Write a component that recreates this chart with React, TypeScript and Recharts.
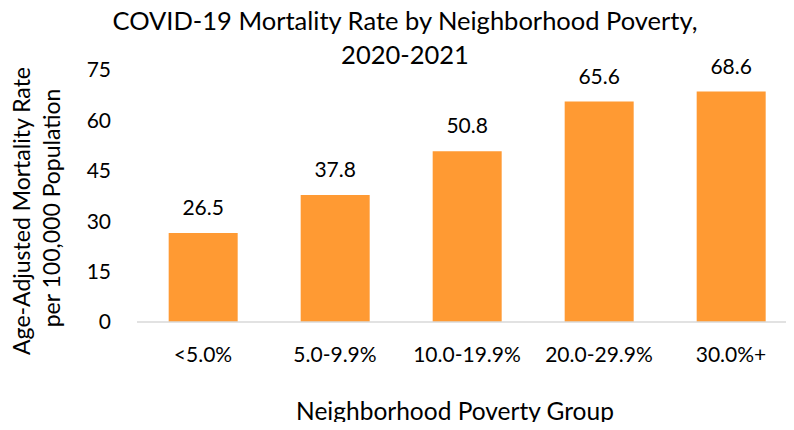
import React from "react";
import { BarChart, Bar, XAxis, YAxis, LabelList, Label } from "recharts";

const categories: string[] = ["<5.0%", "5.0-9.9%", "10.0-19.9%", "20.0-29.9%", "30.0%+"];
const rates: number[] = [26.5, 37.8, 50.8, 65.6, 68.6];
const yTicks: number[] = [0, 15, 30, 45, 60, 75];

const titleLines: string[] = ["COVID-19 Mortality Rate by Neighborhood Poverty,", "2020-2021"];
const yTitleLines: string[] = ["Age-Adjusted Mortality Rate", "per 100,000 Population"];
const xTitle = "Neighborhood Poverty Group";

const FONT = "Lato, 'Open Sans', sans-serif";
const BAR_COLOR = "#FF9A33";

const data = categories.map((name, i) => ({ name, rate: rates[i] }));

// titre vertical en deux lignes, comme dans Excel
const YTitle = () => (
  <g>
    <text
      x={21}
      y={211}
      transform="rotate(-90 21 211)"
      textAnchor="middle"
      dominantBaseline="central"
      fontSize={23}
      fontFamily={FONT}
      fill="#000"
    >
      {yTitleLines[0]}
    </text>
    <text
      x={51}
      y={208}
      transform="rotate(-90 51 208)"
      textAnchor="middle"
      dominantBaseline="central"
      fontSize={23}
      fontFamily={FONT}
      fill="#000"
    >
      {yTitleLines[1]}
    </text>
  </g>
);

const XTitle = () => (
  <text x={455} y={420} textAnchor="middle" fontSize={24.5} fontFamily={FONT} fill="#000">
    {xTitle}
  </text>
);

const App: React.FC = () => {
  return (
    <div style={{ position: "relative", width: 794, height: 430, margin: -8, overflow: "hidden", background: "#fff" }}>
      <div
        style={{
          position: "absolute",
          left: 0,
          top: 0,
          width: 810,
          textAlign: "center",
          fontFamily: FONT,
          fontSize: 25.5,
          lineHeight: "34px",
          color: "#000",
          paddingTop: 3,
        }}
      >
        {titleLines.map((t) => (
          <div key={t}>{t}</div>
        ))}
      </div>
      <BarChart
        width={794}
        height={430}
        data={data}
        margin={{ top: 70, right: -3, bottom: 0, left: 0 }}
        barCategoryGap="24%"
      >
        <XAxis
          dataKey="name"
          axisLine={{ stroke: "#D9D9D9", strokeWidth: 1.5 }}
          tickLine={false}
          tickSize={0}
          tickMargin={25}
          height={108}
          interval={0}
          tick={{ fontSize: 21, fontFamily: FONT, fill: "#000" }}
        >
          <Label content={<XTitle />} />
        </XAxis>
        <YAxis
          width={137}
          domain={[0, 75]}
          ticks={yTicks}
          axisLine={false}
          tickLine={false}
          tickSize={0}
          tickMargin={26}
          tick={{ fontSize: 21, fontFamily: FONT, fill: "#000" }}
        >
          <Label content={<YTitle />} />
        </YAxis>
        <Bar dataKey="rate" fill={BAR_COLOR} isAnimationActive={false}>
          <LabelList dataKey="rate" position="top" offset={18} fontSize={21} fontFamily={FONT} fill="#000" formatter={(v: number) => v.toFixed(1)} />
        </Bar>
      </BarChart>
    </div>
  );
};

export default App;
